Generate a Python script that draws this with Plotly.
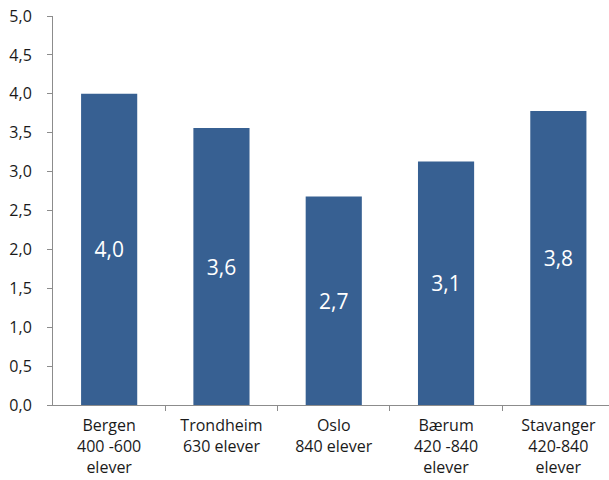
import plotly.graph_objects as go

categories = ["Bergen<br>400 -600<br>elever", "Trondheim<br>630 elever", "Oslo<br>840 elever",
              "Bærum<br>420 -840<br>elever", "Stavanger<br>420-840<br>elever"]
values = [4.0, 3.56, 2.68, 3.13, 3.78]
y_ticks = [0, 0.5, 1.0, 1.5, 2.0, 2.5, 3.0, 3.5, 4.0, 4.5, 5.0]

fig = go.Figure(go.Bar(
    x=list(range(len(categories))), y=values,
    marker=dict(color="#376092", line=dict(width=0)),
    width=0.5,
    text=values, texttemplate="%{y:.1f}",
    textposition="inside", insidetextanchor="middle",
    textfont=dict(color="white", size=21, family="Open Sans"),
    textangle=0,
))

fig.update_layout(
    width=609, height=480,
    margin=dict(l=53, r=0, t=16, b=75),
    paper_bgcolor="white", plot_bgcolor="white",
    separators=", ",
    showlegend=False,
    font=dict(family="Open Sans", size=16, color="#1a1a1a"),
)
fig.update_yaxes(
    range=[0, 5], tickvals=y_ticks, tickformat=".1f",
    showgrid=False, zeroline=False, automargin=False,
    showline=True, linecolor="#8c8c8c", linewidth=1,
    ticks="outside", ticklen=5, tickcolor="#8c8c8c",
    tickfont=dict(size=16), ticklabelstandoff=12, ticklabeloverflow="allow",
)
fig.update_xaxes(
    range=[-0.5, 4.451], automargin=False,
    tickvals=list(range(len(categories))), ticktext=categories,
    showgrid=False, zeroline=False,
    showline=True, linecolor="#8c8c8c", linewidth=1,
    ticks="", tickfont=dict(size=16), ticklabeloverflow="allow",
    ticklabelstandoff=6,
)
fig.update_xaxes(minor=dict(tickvals=[0.5, 1.5, 2.5, 3.5], ticks="outside", ticklen=5, tickcolor="#8c8c8c"))

fig.write_html("out.html", config={"displayModeBar": False},
               post_script="document.body.style.margin='0';")
